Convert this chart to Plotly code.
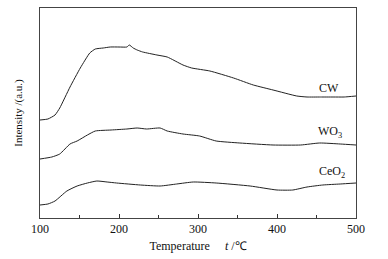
import plotly.graph_objects as go

cw_t = [100, 110, 119, 125, 138, 151, 163, 170, 180, 189, 200, 210, 213, 218, 223, 230, 248, 261, 281, 292, 315, 345, 370, 395, 425, 438, 455, 471, 485, 500]
cw_v = [98, 99, 103, 110, 131, 150, 165, 169, 170, 171, 171, 171, 173, 170, 168, 166, 163, 161, 153, 150, 147, 140, 133, 128, 122, 121, 121, 121, 121, 122]

wo_t = [100, 115, 125, 138, 147, 160, 170, 190, 210, 223, 235, 252, 261, 281, 302, 323, 353, 395, 430, 454, 480, 500]
wo_v = [59, 61, 64, 74, 77, 83, 87, 88, 89, 90, 89, 90, 87, 84, 82, 77, 75, 73, 73, 75, 74, 73]

ce_t = [100, 110, 119, 134, 147, 160, 172, 185, 197, 227, 252, 273, 294, 323, 366, 400, 420, 438, 458, 480, 500]
ce_v = [13, 14, 17, 27, 32, 35, 37, 36, 35, 33, 32, 34, 36, 35, 32, 28, 28, 31, 33, 34, 35]

labels = ["CW", "WO<sub>3</sub>", "CeO<sub>2</sub>"]
label_t = [466, 467, 470]
label_v = [130, 86, 46]

x_ticks = [100, 200, 300, 400, 500]

font = "Liberation Serif, Times New Roman, serif"
fig = go.Figure()
for t, v in [(cw_t, cw_v), (wo_t, wo_v), (ce_t, ce_v)]:
    fig.add_trace(go.Scatter(x=t, y=v, mode="lines", line=dict(color="#222", width=1, shape="spline", smoothing=0.5),
                             showlegend=False, hoverinfo="skip"))
for lab, t, v in zip(labels, label_t, label_v):
    fig.add_annotation(x=t, y=v, text=lab, showarrow=False, font=dict(family=font, size=12, color="#111"))

fig.update_layout(
    width=388, height=259,
    margin=dict(l=40, r=32, t=8, b=41),
    paper_bgcolor="white", plot_bgcolor="white",
    font=dict(family=font, size=12, color="#111"),
    xaxis=dict(range=[100, 500], tickvals=x_ticks, ticks="inside", ticklen=4, tickcolor="#333",
               showline=True, linecolor="#444", linewidth=1, mirror=True, showgrid=False, zeroline=False,
               minor=dict(ticks="inside", ticklen=3, dtick=50, tickcolor="#333", showgrid=False),
               title=dict(text="Temperature     <i>t</i> /℃", font=dict(size=12), standoff=6),
               tickfont=dict(size=12)),
    yaxis=dict(range=[0, 210], showticklabels=False, ticks="", showline=True, linecolor="#444", linewidth=1,
               mirror=True, showgrid=False, zeroline=False,
               title=dict(text="Intensity /(a.u.)", font=dict(size=11), standoff=14)),
)
fig.write_html("out.html", config={"displayModeBar": False},
               post_script="document.body.style.margin='0';document.body.style.padding='0';")
